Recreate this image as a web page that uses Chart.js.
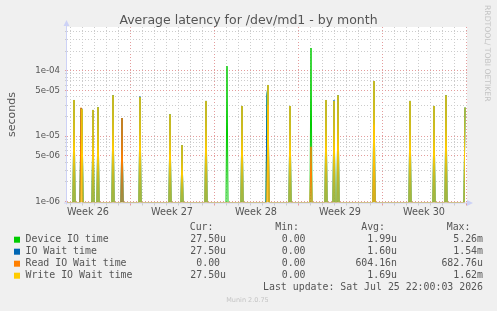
<!DOCTYPE html>
<html>
<head>
<meta charset="utf-8">
<script src="https://cdn.jsdelivr.net/npm/chart.js@4"></script>
<style>
    html, body { margin: 0; padding: 0; background: #f0f0f0; }
    canvas { display: block; }
</style>
</head>
<body>
<canvas id="chart" width="497" height="311"></canvas>
<script>
(function () {
    "use strict";

    // Samples every 2 hours, hours counted from Mon 22 Jun 2026 00:00 (start of week 26).
    // A sample that is not listed in spikeHours is 0.
    const firstHour = 42;
    const lastHour = 838;
    const spikeHours = [56, 70, 72, 94, 104, 134, 152, 188, 248, 272, 320, 362, 392,
        442, 444, 488, 530, 560, 576, 584, 656, 728, 776, 800, 838];

    const deviceIO = [3.58e-5, 2.7e-5, 2.6e-5, 2.52e-5, 2.77e-5, 4.22e-5, 1.9e-5, 3.94e-5,
        2.16e-5, 7.3e-6, 3.46e-5, 1.18e-4, 2.9e-5, 4.3e-5, 6.07e-5, 2.9e-5, 2.23e-4,
        3.58e-5, 3.46e-5, 4.22e-5, 6.98e-5, 3.46e-5, 2.9e-5, 4.22e-5, 2.75e-5];
    const ioWait = [3.58e-5, 2.7e-5, 2.6e-5, 2.52e-5, 2.77e-5, 4.22e-5, 1.9e-5, 4.05e-5,
        2.16e-5, 7.3e-6, 3.46e-5, 0, 2.9e-5, 4.3e-5, 6.07e-5, 2.9e-5, 0,
        3.58e-5, 3.55e-5, 4.22e-5, 6.98e-5, 3.46e-5, 2.9e-5, 4.22e-5, 2.75e-5];
    const readIO = [0, 2.73e-5, 0, 0, 0, 0, 1.9e-5, 0,
        0, 0, 0, 0, 0, 0, 3.0e-5, 0, 6.9e-6,
        0, 0, 0, 1.5e-5, 0, 0, 0, 0];
    const writeIO = [3.58e-5, 0, 2.6e-5, 2.52e-5, 2.77e-5, 4.22e-5, 0, 3.94e-5,
        2.16e-5, 7.3e-6, 3.46e-5, 0, 2.9e-5, 0, 6.07e-5, 2.9e-5, 0,
        3.58e-5, 3.46e-5, 4.22e-5, 6.98e-5, 3.46e-5, 2.9e-5, 4.22e-5, 2.75e-5];

    const weekLabels = ["Week 26", "Week 27", "Week 28", "Week 29", "Week 30"];
    const yGridValues = [1e-6, 2e-6, 3e-6, 4e-6, 5e-6, 6e-6, 7e-6, 8e-6, 9e-6,
        1e-5, 2e-5, 3e-5, 4e-5, 5e-5, 6e-5, 7e-5, 8e-5, 9e-5,
        1e-4, 2e-4, 3e-4, 4e-4];
    const yLabelValues = [1e-6, 5e-6, 1e-5, 5e-5, 1e-4];
    const yTickLabels = ["1e-06", "5e-06", "1e-05", "5e-05", "1e-04"];

    const seriesNames = ["Device IO time", "IO Wait time", "Read IO Wait time", "Write IO Wait time"];
    const seriesColors = ["#00cc00", "#0066b3", "#ff8000", "#ffcc00"];
    const curText = ["27.50u", "27.50u", "0.00 ", "27.50u"];
    const minText = ["0.00 ", "0.00 ", "0.00 ", "0.00 "];
    const avgText = ["1.99u", "1.60u", "604.16n", "1.69u"];
    const maxText = ["5.26m", "1.54m", "682.76u", "1.62m"];

    const textColor = "#555";
    const gridColor = "#cccccc";
    const majorGridColor = "#e49c9c";
    const axisColor = "#cdd2f6";

    // log axis that puts zero samples on the bottom edge, like rrdtool does
    class MuninLog extends Chart.LogarithmicScale {
        parse(raw, index) {
            if (Number(raw) === 0) {
                return 0;
            }
            return super.parse(raw, index);
        }
        getPixelForValue(value) {
            return super.getPixelForValue(value <= this.min ? this.min : value);
        }
    }
    MuninLog.id = "muninLog";
    MuninLog.defaults = Chart.LogarithmicScale.defaults;
    Chart.register(MuninLog);

    function toPoints(values) {
        const points = [];
        for (let h = firstHour; h <= lastHour; h += 2) {
            const i = spikeHours.indexOf(h);
            points.push({ x: h, y: i < 0 ? 0 : values[i] });
        }
        return points;
    }

    const seriesValues = [deviceIO, ioWait, readIO, writeIO];
    const datasets = seriesValues.map(function (values, i) {
        return {
            label: seriesNames[i],
            data: toPoints(values),
            borderColor: seriesColors[i],
            borderWidth: 1,
            pointRadius: 0,
            tension: 0,
            fill: false,
            order: 4 - i,
        };
    });

    const munin = {
        id: "munin",
        beforeDraw: function (chart) {
            const ctx = chart.ctx;
            const a = chart.chartArea;
            ctx.save();
            ctx.fillStyle = "#f0f0f0";
            ctx.fillRect(0, 0, chart.width, chart.height);
            ctx.fillStyle = "#ffffff";
            ctx.fillRect(a.left, a.top, a.right - a.left, a.bottom - a.top);
            ctx.restore();
        },
        afterDraw: function (chart) {
            const ctx = chart.ctx;
            const a = chart.chartArea;
            ctx.save();

            // axes with arrows
            ctx.strokeStyle = axisColor;
            ctx.fillStyle = axisColor;
            ctx.lineWidth = 1;
            ctx.beginPath();
            ctx.moveTo(a.left - 0.5, a.bottom + 2);
            ctx.lineTo(a.left - 0.5, a.top - 2);
            ctx.moveTo(a.left - 3, a.bottom + 0.5);
            ctx.lineTo(a.right + 1, a.bottom + 0.5);
            ctx.stroke();
            ctx.beginPath();
            ctx.moveTo(a.left - 0.5, a.top - 7);
            ctx.lineTo(a.left - 3.5, a.top - 1);
            ctx.lineTo(a.left + 2.5, a.top - 1);
            ctx.closePath();
            ctx.fill();
            ctx.beginPath();
            ctx.moveTo(a.right + 6, a.bottom + 0.5);
            ctx.lineTo(a.right, a.bottom - 2.5);
            ctx.lineTo(a.right, a.bottom + 3.5);
            ctx.closePath();
            ctx.fill();

            // title
            ctx.fillStyle = textColor;
            ctx.font = "12.5px 'DejaVu Sans'";
            ctx.textAlign = "center";
            ctx.textBaseline = "alphabetic";
            ctx.fillText("Average latency for /dev/md1 - by month", 248.5, 23.5);

            // vertical unit label
            ctx.save();
            ctx.translate(15, 114.5);
            ctx.rotate(-Math.PI / 2);
            ctx.font = "11px 'DejaVu Sans'";
            ctx.fillText("seconds", 0, 0);
            ctx.restore();

            // watermark
            ctx.save();
            ctx.translate(484.5, 5);
            ctx.rotate(Math.PI / 2);
            ctx.textAlign = "left";
            ctx.fillStyle = "#c4c4c4";
            ctx.font = "7.7px 'DejaVu Sans'";
            ctx.fillText("RRDTOOL/ TOBI OETIKER", 0, 0);
            ctx.restore();

            // legend table
            ctx.font = "9.9px 'DejaVu Sans Mono'";
            ctx.textBaseline = "middle";
            ctx.fillStyle = textColor;
            ctx.textAlign = "right";
            ctx.fillText("Cur:", 213.5, 227.5);
            ctx.fillText("Min:", 299, 227.5);
            ctx.fillText("Avg:", 385, 227.5);
            ctx.fillText("Max:", 470.5, 227.5);
            for (let i = 0; i < seriesNames.length; i++) {
                const y = 239.7 + i * 12;
                ctx.fillStyle = seriesColors[i];
                ctx.fillRect(14, y - 3, 6, 6);
                ctx.fillStyle = textColor;
                ctx.textAlign = "left";
                ctx.fillText(seriesNames[i], 25.5, y);
                ctx.textAlign = "right";
                ctx.fillText(curText[i], 226, y);
                ctx.fillText(minText[i], 311.5, y);
                ctx.fillText(avgText[i], 397, y);
                ctx.fillText(maxText[i], 483, y);
            }
            ctx.fillText("Last update: Sat Jul 25 22:00:03 2026", 483, 287.7);

            ctx.textAlign = "center";
            ctx.fillStyle = "#c4c4c4";
            ctx.font = "6.5px 'DejaVu Sans'";
            ctx.fillText("Munin 2.0.75", 247.5, 300);
            ctx.restore();
        },
    };

    const ctx = document.getElementById("chart").getContext("2d");

    new Chart(ctx, {
        type: "line",
        data: { datasets: datasets },
        plugins: [munin],
        options: {
            responsive: false,
            animation: false,
            devicePixelRatio: 1,
            layout: {
                padding: { left: 0, right: 30, top: 27, bottom: 88.5 },
            },
            plugins: {
                legend: { display: false },
                title: { display: false },
                tooltip: { enabled: false },
            },
            scales: {
                x: {
                    type: "linear",
                    min: 42,
                    max: 842,
                    afterBuildTicks: function (scale) {
                        const ticks = [];
                        for (let h = 48; h <= 840; h += 12) {
                            ticks.push({ value: h });
                        }
                        scale.ticks = ticks;
                    },
                    afterFit: function (scale) {
                        scale.height = 20;
                    },
                    ticks: {
                        autoSkip: false,
                        maxRotation: 0,
                        minRotation: 0,
                        padding: 1,
                        color: textColor,
                        font: { family: "DejaVu Sans", size: 9.7 },
                        callback: function (value) {
                            if ((value - 84) % 168 === 0) {
                                return weekLabels[(value - 84) / 168] || "";
                            }
                            return "";
                        },
                    },
                    grid: {
                        tickLength: 3,
                        color: function (c) {
                            const v = c.tick ? c.tick.value : 0;
                            if (v % 168 === 0) {
                                return majorGridColor;
                            }
                            if (v % 24 === 0) {
                                return gridColor;
                            }
                            return "transparent";
                        },
                    },
                    border: { display: false, dash: [1, 2] },
                },
                y: {
                    type: "muninLog",
                    min: 9.72e-7,
                    max: 4.67e-4,
                    afterBuildTicks: function (scale) {
                        scale.ticks = yGridValues.map(function (v) {
                            return { value: v };
                        });
                    },
                    afterFit: function (scale) {
                        scale.width = 67;
                    },
                    ticks: {
                        autoSkip: false,
                        padding: 5,
                        color: textColor,
                        font: { family: "DejaVu Sans", size: 8.6 },
                        callback: function (value) {
                            const i = yLabelValues.indexOf(value);
                            return i < 0 ? "" : yTickLabels[i];
                        },
                    },
                    grid: {
                        tickLength: 2,
                        color: function (c) {
                            const v = c.tick ? c.tick.value : 0;
                            return yLabelValues.indexOf(v) < 0 ? gridColor : majorGridColor;
                        },
                    },
                    border: { display: false, dash: [1, 2] },
                },
            },
        },
    });
})();
</script>
</body>
</html>
